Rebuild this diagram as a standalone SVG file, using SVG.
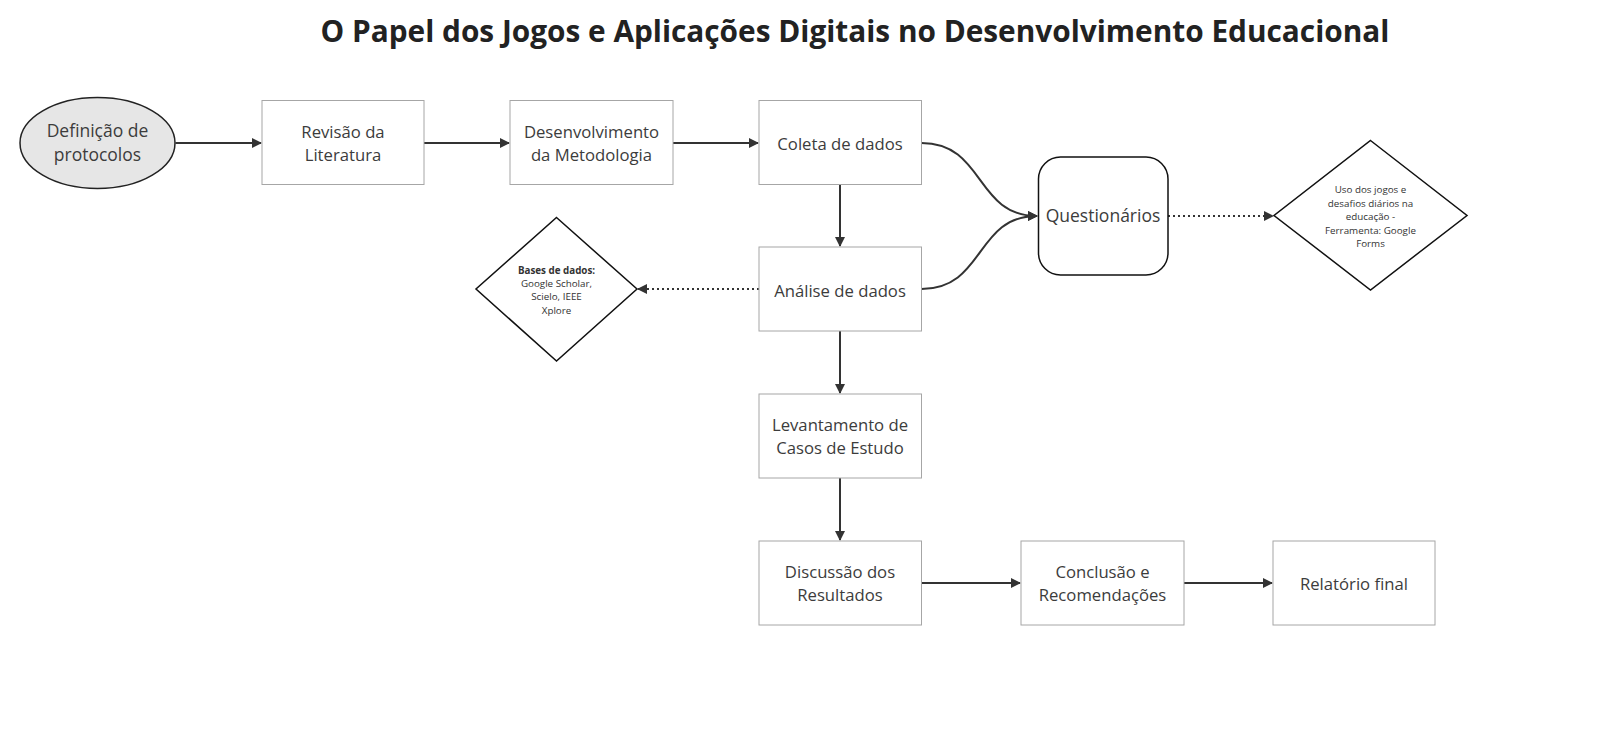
<svg xmlns="http://www.w3.org/2000/svg" width="1609" height="730" viewBox="0 0 1609 730">
<defs>
<style>
.box{fill:#fff;stroke:#a6a6a6;stroke-width:1}
.t{font-family:"Open Sans",sans-serif;font-size:16.7px;fill:#3c3c3c;text-anchor:middle}
.s{font-family:"Open Sans",sans-serif;font-size:9.8px;fill:#333;text-anchor:middle}
.c{fill:none;stroke:#333;stroke-width:2}
.d{fill:none;stroke:#333;stroke-width:2;stroke-dasharray:2 3}
.dia{fill:#fff;stroke:#111;stroke-width:1.5}
</style>
<marker id="a" viewBox="0 0 10 10" refX="9" refY="5" markerWidth="5" markerHeight="5" orient="auto" markerUnits="strokeWidth">
<path d="M0,0 L10,5 L0,10 z" fill="#333"/>
</marker>
</defs>
<rect width="1609" height="730" fill="#fff"/>
<text x="855" y="42" font-family="'Open Sans',sans-serif" font-size="29.8" font-weight="bold" fill="#222" text-anchor="middle">O Papel dos Jogos e Aplicações Digitais no Desenvolvimento Educacional</text>

<g id="connectors">
<path class="c" d="M175.5,143 H261" marker-end="url(#a)"/>
<path class="c" d="M424,143 H509" marker-end="url(#a)"/>
<path class="c" d="M673,143 H758" marker-end="url(#a)"/>
<path class="c" d="M840,185 V246" marker-end="url(#a)"/>
<path class="c" d="M921.5,143 C985,143 975,216 1037,216" marker-end="url(#a)"/>
<path class="c" d="M921.5,289 C985,289 975,216 1037,216" marker-end="url(#a)"/>
<path class="d" d="M1168,216 H1273" marker-end="url(#a)"/>
<path class="d" d="M759,289 H638" marker-end="url(#a)"/>
<path class="c" d="M840,331 V393" marker-end="url(#a)"/>
<path class="c" d="M840,478 V540" marker-end="url(#a)"/>
<path class="c" d="M921.5,583 H1020" marker-end="url(#a)"/>
<path class="c" d="M1184,583 H1272" marker-end="url(#a)"/>
</g>

<g id="n-definicao">
<ellipse cx="97.5" cy="143" rx="77.5" ry="45.5" fill="#e6e6e6" stroke="#222" stroke-width="1.5"/>
<text class="t" x="97.5" y="137" style="font-size:17.5px">Definição de</text>
<text class="t" x="97.5" y="161" style="font-size:17.5px">protocolos</text>
</g>
<g id="n-revisao">
<rect class="box" x="262" y="100.5" width="162" height="84"/>
<text class="t" x="343" y="138">Revisão da</text>
<text class="t" x="343" y="161">Literatura</text>
</g>
<g id="n-desenvolvimento">
<rect class="box" x="510" y="100.5" width="163" height="84"/>
<text class="t" x="591.5" y="138">Desenvolvimento</text>
<text class="t" x="591.5" y="161">da Metodologia</text>
</g>
<g id="n-coleta">
<rect class="box" x="759" y="100.5" width="162.5" height="84"/>
<text class="t" x="840" y="150">Coleta de dados</text>
</g>
<g id="n-analise">
<rect class="box" x="759" y="247" width="162.5" height="84"/>
<text class="t" x="840" y="297">Análise de dados</text>
</g>
<g id="n-levantamento">
<rect class="box" x="759" y="394" width="162.5" height="84"/>
<text class="t" x="840" y="431">Levantamento de</text>
<text class="t" x="840" y="454">Casos de Estudo</text>
</g>
<g id="n-discussao">
<rect class="box" x="759" y="541" width="162.5" height="84"/>
<text class="t" x="840" y="578">Discussão dos</text>
<text class="t" x="840" y="601">Resultados</text>
</g>
<g id="n-conclusao">
<rect class="box" x="1021" y="541" width="163" height="84"/>
<text class="t" x="1102.5" y="578">Conclusão e</text>
<text class="t" x="1102.5" y="601">Recomendações</text>
</g>
<g id="n-relatorio">
<rect class="box" x="1273" y="541" width="162" height="84"/>
<text class="t" x="1354" y="590">Relatório final</text>
</g>
<g id="n-questionarios">
<rect x="1038.5" y="157" width="129.5" height="118" rx="22" fill="#fff" stroke="#111" stroke-width="1.5"/>
<text class="t" x="1103" y="222" style="font-size:17.5px">Questionários</text>
</g>
<g id="n-uso">
<polygon class="dia" points="1370.5,140.5 1467,215.5 1370.5,290 1274,215.5"/>
<text class="s" x="1370.5" y="193">Uso dos jogos e</text>
<text class="s" x="1370.5" y="206.5">desafios diários na</text>
<text class="s" x="1370.5" y="220">educação -</text>
<text class="s" x="1370.5" y="233.5">Ferramenta: Google</text>
<text class="s" x="1370.5" y="247">Forms</text>
</g>
<g id="n-bases">
<polygon class="dia" points="556.5,217.5 637,289 556.5,361 476,289"/>
<text class="s" x="556.5" y="273.5" font-weight="bold">Bases de dados:</text>
<text class="s" x="556.5" y="286.5">Google Scholar,</text>
<text class="s" x="556.5" y="300">Scielo, IEEE</text>
<text class="s" x="556.5" y="313.5">Xplore</text>
</g>
</svg>
